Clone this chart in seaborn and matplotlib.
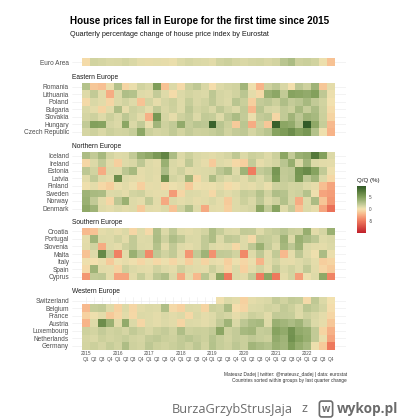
import numpy as np
import pandas as pd
import matplotlib
matplotlib.use("Agg")
import matplotlib.pyplot as plt
import seaborn as sns
from matplotlib.colors import LinearSegmentedColormap

years = [2015, 2016, 2017, 2018, 2019, 2020, 2021, 2022]
quarters = ["Q1", "Q2", "Q3", "Q4"]
periods = [f"{y} {q}" for y in years for q in quarters]

euro_countries = ["Euro Area"]
euro_vals = [
    [-0.3, 1.4, 1.2, 1.0, 1.1, 1.3, 1.0, 0.6, 0.5, 0.6, 0.5, 0.4, 0.9, 1.2, 1.0, 0.9,
     0.7, 1.4, 1.6, 1.2, 1.0, 1.2, 1.3, 1.1, 1.3, 2.4, 3.0, 1.5, 1.7, 1.4, 0.3, -1.6],
]

east_countries = ["Romania", "Lithuania", "Poland", "Bulgaria", "Slovakia", "Hungary", "Czech Republic"]
east_vals = [
    [2.6, -1.4, -1.7, 0.4, 2.7, -0.7, 0.4, 1.4, 1.0, 5.2, -1.6, 0.9, -0.4, 1.6, 2.1,
     1.1, -0.2, 0.9, 1.2, 1.4, 3.4, 0.2, -2.2, 1.5, 2.1, 1.1, -0.1, 2.2, 1.5, 3.6, -1.4, 0.6],
    [0.8, 2.0, 0.7, -2.6, 0.9, 2.8, 2.6, 0.8, 0.7, 1.9, 0.8, -0.3, 0.9, 1.3, 1.1,
     0.9, 2.2, 1.2, 1.0, 1.4, 2.3, 0.6, -0.4, 3.8, 4.5, 2.0, 4.8, 4.6, 4.2, 5.0, 2.1, 0.3],
    [-0.4, 1.0, 0.7, -0.7, 0.9, 1.4, 0.8, -1.6, 1.3, 0.5, 1.2, 1.6, 0.8, 1.8, 1.1,
     1.4, 2.1, 1.2, 0.9, 2.4, 1.7, -1.0, 1.9, 2.2, 1.6, 2.8, 1.9, 2.3, 3.2, 2.0, 1.4, 0.1],
    [1.0, 0.6, -0.8, 0.7, 2.9, 0.5, 1.5, 1.2, 0.6, 2.0, 1.1, 1.5, 0.8, 2.2, 1.3,
     1.6, 1.0, 2.1, 1.4, 0.9, 2.0, -2.1, 2.4, 1.2, 1.1, 2.0, 1.6, 3.2, 1.8, 3.0, 1.5, -0.3],
    [1.2, 1.5, 0.8, 1.6, 1.0, 2.2, 1.4, 0.7, -2.4, 5.6, 1.2, 0.5, 1.5, 1.9, 0.9,
     2.0, 1.8, 0.8, 2.1, 3.0, 1.9, 0.4, 1.9, 2.2, -0.6, 2.0, 3.5, 2.2, 3.6, 3.2, 1.6, -0.8],
    [2.0, 5.0, 4.8, 1.2, 0.9, 4.6, 1.0, 2.0, 0.4, 3.4, 1.5, 2.0, 4.2, 1.8, 2.4,
     2.2, 9.0, 2.4, 1.6, -1.2, 2.3, -2.6, 1.5, -1.4, 9.2, 4.6, 4.2, 2.6, 9.5, 4.4, 1.8, -2.0],
    [1.2, 1.5, 1.0, 1.6, 1.3, 1.4, 1.8, 4.5, 1.6, 1.2, 1.4, 2.0, 1.3, 1.9, 1.5,
     1.6, 1.8, 2.2, 1.4, 1.9, 2.1, 1.2, 1.8, 2.4, 4.8, 5.3, 6.2, 4.9, 5.6, 2.6, 0.2, -2.3],
]

north_countries = ["Iceland", "Ireland", "Estonia", "Latvia", "Finland", "Sweden", "Norway", "Denmark"]
north_vals = [
    [3.0, 2.0, 3.2, 1.3, 0.8, 0.9, 2.0, 3.8, 4.4, 5.4, 6.8, 3.0, 0.9, 1.6, 1.0,
     0.8, 0.7, 0.9, 1.2, 2.1, 0.9, 1.6, 1.4, 0.8, 1.6, 4.6, 2.0, 3.8, 4.2, 7.6, 5.0, 0.9],
    [-0.6, 0.9, 2.0, 0.7, -1.0, 0.8, 1.1, 2.2, 0.8, 0.6, 3.8, 1.0, 0.7, 2.1, 0.9,
     0.5, -1.2, 0.8, 0.6, -0.5, -1.0, 1.9, 0.5, 0.9, 1.3, 2.4, 4.0, 1.0, 3.4, 0.9, 0.7, 0.6],
    [2.2, 1.4, -2.6, 0.9, 0.8, 2.3, 3.2, 0.6, 0.8, 0.7, 3.0, 0.9, 1.5, 0.7, 0.8,
     0.9, 1.0, 2.2, 3.0, 0.8, 3.6, -4.8, 1.9, 2.4, 5.6, 2.0, 2.2, 5.7, 6.4, 4.8, 2.0, 0.2],
    [0.7, 2.0, 0.8, 0.6, 6.2, 0.9, 0.7, 0.5, 0.8, 0.6, 6.0, 1.3, 0.9, 3.6, -0.5,
     0.9, 3.0, 1.4, 0.8, 1.2, 0.7, 1.6, 0.9, 1.8, 5.2, 1.9, 2.3, 5.6, 2.1, 3.4, 0.9, -0.5],
    [0.2, 0.6, -0.5, -1.1, 0.4, 0.7, 0.3, -1.0, 0.5, 0.6, -0.4, 0.3, 0.5, -1.2, 0.2,
     0.4, 0.3, 0.6, -0.3, 0.2, 0.7, 0.5, 0.9, 0.4, 1.5, 1.7, 1.3, 1.4, 0.8, 0.5, -1.8, -3.0],
    [3.6, 3.1, 3.0, 0.8, 0.9, 0.6, 1.3, 1.5, 0.7, 0.5, 0.6, -3.4, -0.6, 0.9, 0.8,
     0.6, -0.5, 1.1, 0.7, 1.0, 1.8, 1.6, 2.6, 1.4, 2.8, 2.5, 1.3, 1.5, 2.6, 0.2, -3.0, -3.3],
    [3.8, 2.0, 0.7, -0.6, 2.2, 3.8, 0.8, 0.6, 2.0, 0.7, -2.8, 0.9, 0.6, 0.8, 0.5,
     0.7, 1.0, 0.6, -1.2, 0.8, 1.6, 1.0, 2.2, 0.9, 1.5, 2.7, 1.2, -2.6, 0.8, 3.0, -1.5, -3.6],
    [4.4, 3.6, 0.8, 0.6, 0.9, 0.7, 0.8, -1.3, 0.7, 0.6, 0.9, -1.6, 1.4, 2.8, 0.8,
     -2.8, 0.7, 0.6, -1.0, 0.8, 1.0, 1.2, 4.6, 2.0, 4.8, 0.8, 1.9, -1.6, 0.9, 0.5, -2.9, -5.5],
]

south_countries = ["Croatia", "Portugal", "Slovenia", "Malta", "Italy", "Spain", "Cyprus"]
south_vals = [
    [-2.0, -1.6, 0.6, 0.8, 0.5, 0.9, -0.6, 0.8, -0.4, 2.8, 0.9, 2.1, 0.8, 0.7, 0.9,
     1.3, 2.9, 1.8, 1.0, 0.9, 2.0, 1.9, 0.8, 1.6, 1.9, 2.4, 1.7, 1.5, 4.0, 0.7, 1.2, 3.8],
    [0.6, 3.5, 0.9, 0.8, 1.4, 0.7, 2.0, 0.8, 0.9, 3.0, 1.5, 2.8, 2.1, 1.0, 0.9,
     2.0, 2.9, 0.9, 2.1, 1.9, 0.8, -0.4, 2.0, 1.8, 1.4, 3.6, 0.9, 3.8, 3.0, 2.2, 0.8, 1.1],
    [0.7, 1.4, -2.6, 0.8, 0.6, 1.5, 2.0, 0.9, 0.8, 2.6, 0.7, 2.0, 0.8, 0.6, 0.9,
     2.0, 0.9, 0.7, 0.8, -0.5, 0.8, 2.1, 3.8, 1.9, 0.9, 3.3, 2.2, 3.6, 0.9, 0.7, 0.6, 0.9],
    [-1.6, 0.8, 6.6, 2.0, -4.6, 0.7, 3.8, 2.2, -4.2, 2.1, 1.4, 2.0, 0.7, -3.6, 2.0,
     3.6, -3.8, 2.0, 1.9, 1.4, -4.2, 0.8, 2.1, 0.7, 2.0, -2.0, 0.6, 2.2, 0.8, 0.2, 3.0, 0.4],
    [0.2, 0.0, 0.4, -1.2, 0.3, 0.5, 0.2, -0.6, 0.4, -0.5, 0.3, -0.6, 0.4, -1.1, 0.6,
     -0.8, 0.5, 0.4, -1.0, 0.3, -0.6, 0.4, -2.2, 0.7, 1.3, 0.6, 0.5, 0.8, 1.2, 0.6, -1.1, -0.8],
    [-0.4, 3.6, 0.7, 0.6, -0.8, 1.5, 0.9, 0.7, 0.6, 1.4, 0.8, 0.6, 1.5, 0.8, 0.7,
     0.6, 1.6, 0.8, -0.7, 0.9, -0.9, 0.6, 1.3, 0.5, 2.0, 0.9, 1.4, 0.8, 2.0, 0.7, -0.6, -1.2],
    [-3.6, 2.0, 2.1, 0.6, -3.0, -3.0, 0.7, 1.8, 0.8, 2.2, 2.8, 0.9, -2.8, 0.6, -2.0,
     2.4, 0.8, 4.6, -5.0, 0.9, 0.7, 2.0, -4.8, 4.6, -5.0, 0.6, 1.3, -3.2, 0.3, 0.8, 4.4, -4.5],
]

west_countries = ["Switzerland", "Belgium", "France", "Austria", "Luxembourg", "Netherlands", "Germany"]
west_vals = [
    [np.nan] * 17 +
    [0.2, 0.9, 0.7, -0.9, 0.6, 0.8, 1.0, 1.9, 1.4, 2.0, 1.8, -0.4, 2.1, 0.9, 0.1],
    [-2.0, 1.8, 2.0, 0.8, -0.9, 0.9, -0.6, 0.7, 0.9, 0.8, 2.8, -0.4, -0.9, 0.9, 0.8,
     -0.8, 1.6, 1.4, 3.0, -0.2, -0.7, 0.9, 1.0, 1.4, 1.2, 2.0, 1.6, 0.9, 2.3, 1.8, 1.2, -0.2],
    [-0.9, 0.2, 0.6, -1.3, -0.6, 0.7, -0.5, 0.9, 0.8, 0.6, 1.0, 0.7, 0.9, -0.5, 1.0,
     0.6, 0.8, 1.5, 1.2, 0.5, 0.9, 1.6, 1.3, 0.7, 2.0, 1.9, 1.8, 0.8, 1.5, 1.1, 0.6, -0.6],
    [-2.2, 0.8, 6.2, 3.8, 0.7, 4.2, 0.9, -0.6, 0.8, 0.6, 0.9, 0.7, -0.7, 0.9, 0.8,
     0.6, 0.9, 2.0, 3.6, 1.0, 2.2, 3.0, 3.2, 0.8, 3.8, 3.4, 3.0, 3.6, 2.2, 0.9, 0.5, -1.4],
    [1.5, 1.3, 1.9, 1.4, 1.6, 1.2, 2.0, 1.5, 1.1, 1.6, 1.9, 1.4, 2.8, 1.5, 1.7,
     1.6, 2.0, 4.6, 1.5, 1.9, 3.2, 3.4, 1.8, 2.0, 4.8, 4.2, 5.8, 4.3, 3.8, 2.0, -0.8, -2.4],
    [1.2, 1.0, 1.6, 1.3, 1.5, 1.8, 1.4, 1.2, 1.9, 2.1, 1.7, 1.5, 2.0, 2.4, 1.9,
     1.6, 2.5, 1.8, 1.4, 1.9, 1.7, 2.1, 1.8, 1.6, 4.2, 3.6, 6.0, 4.8, 4.0, 2.0, 0.4, -3.0],
    [1.3, 1.6, 1.2, 1.8, 1.4, 2.9, 1.5, 1.3, 2.2, 1.6, 1.4, 1.7, 2.0, 1.5, 2.2,
     1.4, 2.6, 1.8, 1.5, 2.2, 1.7, 3.4, 3.0, 2.6, 3.8, 3.4, 5.2, 4.0, 3.2, 0.3, -1.2, -5.0],
]

group_names = ["", "Eastern Europe", "Northern Europe", "Southern Europe", "Western Europe"]
group_countries = [euro_countries, east_countries, north_countries, south_countries, west_countries]
group_vals = [euro_vals, east_vals, north_vals, south_vals, west_vals]

sns.set_theme(style="white")
plt.rcParams["font.family"] = ["Liberation Sans", "DejaVu Sans"]

# diverging red - cream - green scale, centred on 0
cmap = LinearSegmentedColormap.from_list("qq", [
    (0.0, "#C0202A"), (0.25, "#EF7A5E"), (0.39, "#F7B58A"), (0.45, "#F6CF9E"),
    (0.5, "#F3E1AF"), (0.55, "#DAD8A6"), (0.62, "#B9C590"), (0.75, "#83A05C"),
    (0.88, "#55793A"), (1.0, "#2A5424")])

W, H = 400, 420
fig = plt.figure(figsize=(W / 100, H / 100), dpi=100)

# pixel layout of the panels (ggplot facet look)
left_px, right_px = 72, 346
tile_l, tile_r = 82, 335
ncol = len(periods)
colw = (tile_r - tile_l) / ncol
row_h = 7.55
tops = [58.4, 82.9, 151.9, 227.6, 296.8]

cax = fig.add_axes([357 / W, 1 - 233 / H, 9 / W, 47 / H])

for i, (gname, names, vals) in enumerate(zip(group_names, group_countries, group_vals)):
    n = len(names)
    hpx = n * row_h
    ax = fig.add_axes([left_px / W, 1 - (tops[i] + hpx) / H,
                       (right_px - left_px) / W, hpx / H])
    df = pd.DataFrame(vals, index=names, columns=periods)
    sns.heatmap(df, ax=ax, cmap=cmap, vmin=-10, vmax=9.6, center=0,
                cbar=(i == 0), cbar_ax=cax if i == 0 else None,
                xticklabels=False, yticklabels=False)
    ax.set_xlim(-(tile_l - left_px) / colw, ncol + (right_px - tile_r) / colw)
    ax.set_ylim(n, 0)
    ax.set_axisbelow(True)
    ax.grid(True, color="#EBEBEB", linewidth=0.4)
    ax.set_yticks(np.arange(n) + 0.5)
    ax.set_yticklabels(names, rotation=0, fontsize=4.7, color="#4D4D4D")
    ax.set_xticks(np.arange(ncol) + 0.5)
    if i == len(group_names) - 1:
        labs = [(f"{p.split()[0]}\n" if p.endswith("Q1") else "\n") + p.split()[1] for p in periods]
        ax.set_xticklabels(labs, fontsize=3.4, color="#4D4D4D", linespacing=1.3)
    else:
        ax.set_xticklabels([])
    ax.tick_params(length=0, pad=2.2, axis="y")
    ax.tick_params(length=0, pad=0.8, axis="x")
    ax.set_xlabel("")
    ax.set_ylabel("")
    for s in ax.spines.values():
        s.set_visible(False)
    if gname:
        ax.set_title(gname, loc="left", fontsize=4.8, color="#1A1A1A", pad=2.6)

cbar = cax.collections[0].colorbar if cax.collections else None
cax.set_yticks([-5, 0, 5])
cax.set_yticklabels(["-5", "0", "5"], fontsize=3.3, color="#4D4D4D")
cax.tick_params(length=0, pad=2)
cax.set_title("Q/Q (%)", loc="left", fontsize=4.4, color="#1A1A1A", pad=3)
for s in cax.spines.values():
    s.set_visible(False)
if cbar is not None:
    cbar.outline.set_visible(False)

fig.text(70 / W, 1 - 20.5 / H, "House prices fall in Europe for the first time since 2015",
         fontsize=7.1, fontweight="bold", color="#000000", va="center")
fig.text(70 / W, 1 - 34.5 / H, "Quarterly percentage change of house price index by Eurostat",
         fontsize=5.2, color="#1A1A1A", va="center")
fig.text(347 / W, 1 - 377.5 / H,
         "Mateusz Dadej | twitter: @mateusz_dadej | data: eurostat\n"
         "Countries sorted within groups by last quarter change",
         fontsize=3.4, color="#333333", ha="right", va="center", multialignment="right")

# watermark strip at the bottom
wm_y = 1 - 409 / H
fig.text(172 / W, wm_y, "BurzaGrzybStrusJaja", fontsize=9.2, color="#6B6B6B",
         family="Open Sans", va="center")
fig.text(301 / W, wm_y, "z", fontsize=9.2, color="#6B6B6B", family="Open Sans", va="center")
fig.text(326 / W, wm_y, "w", fontsize=7, color="#6B6B6B", family="Open Sans",
         fontweight="bold", va="center", ha="center",
         bbox=dict(boxstyle="round,pad=0.25", fc="white", ec="#6B6B6B", lw=1.2))
fig.text(337 / W, wm_y, "wykop.pl", fontsize=9.8, color="#6B6B6B", family="Open Sans",
         fontweight="bold", va="center")

fig.savefig("out.png", dpi=100, facecolor="white")
